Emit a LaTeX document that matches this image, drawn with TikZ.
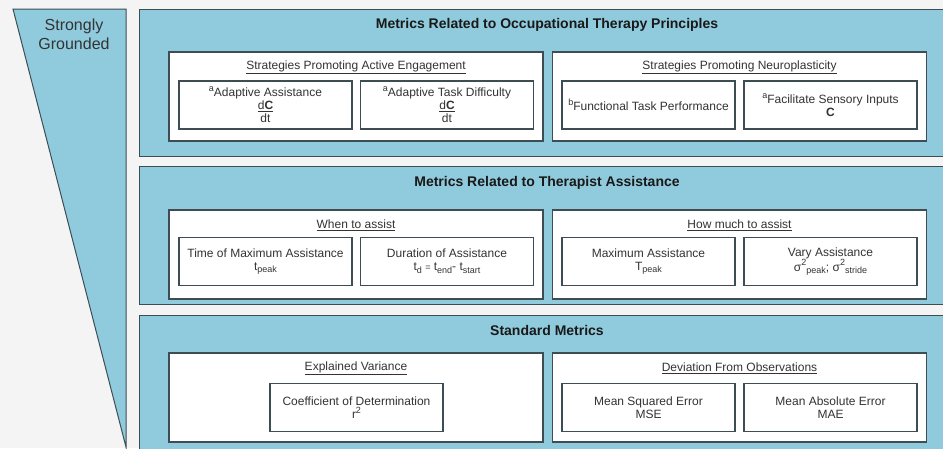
\documentclass[tikz,border=0pt]{standalone}
\usepackage{fontspec}
\setmainfont{Liberation Sans}
\definecolor{bg}{HTML}{F4F4F4}
\definecolor{panelblue}{HTML}{90CBDD}
\definecolor{edge}{HTML}{3E4C54}
\definecolor{ink}{HTML}{333333}
% raised and lowered small text for indices and footnote marks
\newcommand\upidx[1]{\raisebox{0.42em}{\fontsize{9}{9}\selectfont #1}}
\newcommand\dnidx[1]{\raisebox{-0.22em}{\fontsize{9}{9}\selectfont #1}}
\begin{document}
\begin{tikzpicture}[x=1pt,y=-1pt,
  panel/.style={draw=edge,fill=panelblue,line width=1.2pt,anchor=north west,inner sep=0pt,minimum width=830pt},
  group/.style={draw=edge,fill=white,line width=1.2pt,minimum width=374pt,minimum height=89pt,inner sep=0pt},
  leaf/.style={draw=edge,fill=white,line width=1.1pt,minimum width=173pt,minimum height=48pt,inner sep=0pt,align=center,font=\fontsize{12}{13}\selectfont,text=ink},
  ptitle/.style={font=\fontsize{14}{16}\selectfont\bfseries,text=black!90},
  gtitle/.style={font=\fontsize{12}{14}\selectfont,text=ink},
  wedge/.style={draw=edge,fill=panelblue,line width=1pt,line join=miter},
]
\useasboundingbox (0,0) rectangle (943,448);
\clip (0,0) rectangle (943,448);
\fill[bg] (0,0) rectangle (943,448);

% grounding wedge on the left
\draw[wedge] (13,9) -- (126,9) -- (126,447) -- cycle;
\node[align=center,font=\fontsize{16}{19}\selectfont,text=ink] (grounded) at (74,34.5) {Strongly\\Grounded};

% three horizontal bands
\node[panel,minimum height=147pt] (p1) at (139,9) {};
\node[panel,minimum height=138pt] (p2) at (139,166) {};
\node[panel,minimum height=150pt] (p3) at (139,315) {};

% band 1: occupational therapy principles
\node[ptitle] (t1) at (547,25) {Metrics Related to Occupational Therapy Principles};
\node[group] (g1a) at (356,96.5) {};
\node[group] (g1b) at (739.5,96.5) {};
\node[gtitle] (s1a) at (356,67) {\underline{Strategies Promoting Active Engagement}};
\node[gtitle] (s1b) at (739.5,67) {\underline{Strategies Promoting Neuroplasticity}};
\node[leaf] (l1) at (265.5,105) {\upidx{a}Adaptive Assistance\\\underline{d\textbf{C}}\\dt};
\node[leaf] (l2) at (447,105) {\upidx{a}Adaptive Task Difficulty\\\underline{d\textbf{C}}\\dt};
\node[leaf] (l3) at (648.5,105) {\upidx{b}Functional Task Performance};
\node[leaf] (l4) at (830.5,105) {\upidx{a}Facilitate Sensory Inputs\\\textbf{C}};

% band 2: therapist assistance
\node[ptitle] (t2) at (547,183) {Metrics Related to Therapist Assistance};
\node[group] (g2a) at (356,254.5) {};
\node[group] (g2b) at (739.5,254.5) {};
\node[gtitle] (s2a) at (356,225) {\underline{When to assist}};
\node[gtitle] (s2b) at (739.5,225) {\underline{How much to assist}};
\node[leaf] (l5) at (265.5,261.5) {Time of Maximum Assistance\\t\dnidx{peak}};
\node[leaf] (l6) at (447,261.5) {Duration of Assistance\\t\dnidx{d} {\fontsize{9}{9}\selectfont=} t\dnidx{end}- t\dnidx{start}};
\node[leaf] (l7) at (648.5,261.5) {Maximum Assistance\\T\dnidx{peak}};
\node[leaf] (l8) at (830.5,261.5) {Vary Assistance\\σ\upidx{2}\dnidx{peak}; σ\upidx{2}\dnidx{stride}};

% band 3: standard metrics
\node[ptitle] (t3) at (547,330) {Standard Metrics};
\node[group] (g3a) at (356,397.5) {};
\node[group] (g3b) at (739.5,397.5) {};
\node[gtitle] (s3a) at (356,368.5) {\underline{Explained Variance}};
\node[gtitle] (s3b) at (739.5,368.5) {\underline{Deviation From Observations}};
\node[leaf] (l9) at (356.5,407.5) {Coefficient of Determination\\r\upidx{2}};
\node[leaf] (l10) at (648.5,407.5) {Mean Squared Error\\MSE};
\node[leaf] (l11) at (830.5,407.5) {Mean Absolute Error\\MAE};
\end{tikzpicture}
\end{document}
